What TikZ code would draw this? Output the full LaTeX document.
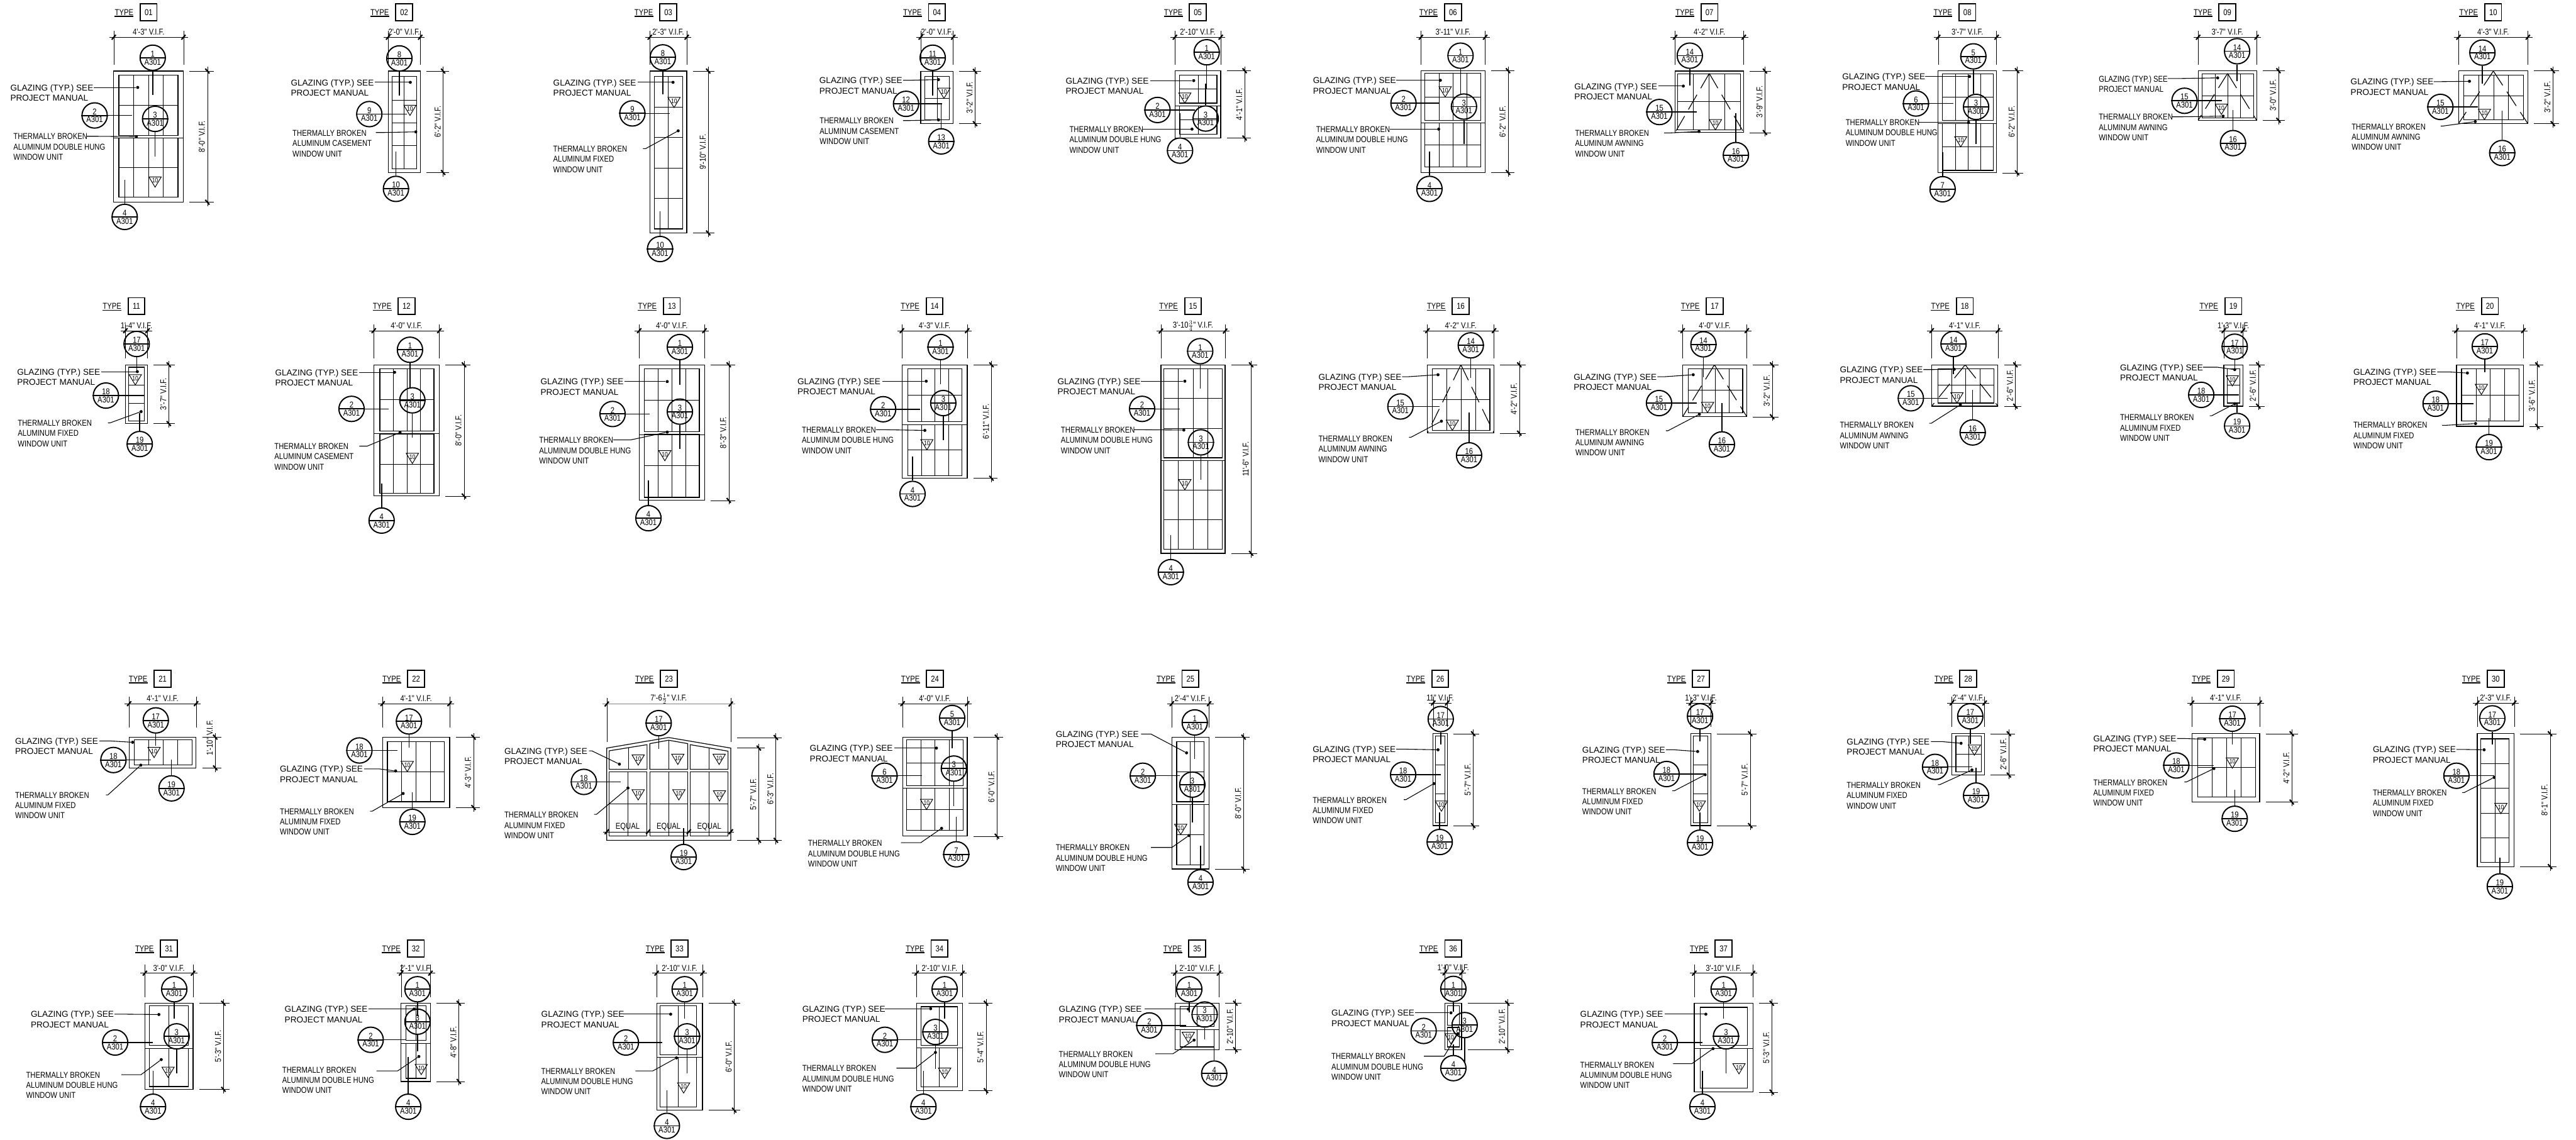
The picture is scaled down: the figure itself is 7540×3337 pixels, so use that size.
\documentclass[tikz,border=0pt]{standalone}
\usepackage{amsmath, amssymb}
\usepackage{fontspec}
\usepackage{xcolor}
\usetikzlibrary{positioning}
\newfontfamily\cadw{Liberation Sans}
\newfontfamily\cadn[FakeStretch=.83]{Liberation Sans}
\tikzset{
  frameln/.style={line width=1.1pt},
  gridln/.style={line width=.9pt},
  dimln/.style={line width=.4pt},
  tickln/.style={line width=2pt},
  leaderln/.style={line width=1.4pt},
  noteln/.style={line width=1pt},
  awnln/.style={line width=1.1pt,dash pattern=on 25pt off 11pt},
  bubblec/.style={circle,draw,line width=1.8pt,minimum size=37pt,inner sep=0pt},
  cadtxt/.style={inner sep=0pt,font={\cadn\fontsize{12.5}{15}\selectfont}},
  tagbox/.style={draw,line width=1.6pt,minimum size=24.5pt,inner sep=0pt,font={\cadn\fontsize{12.5}{15}\selectfont}},
  tagtxt/.style={inner xsep=0pt,inner ysep=1.5pt,font={\cadn\fontsize{12.5}{15}\selectfont}},
  notewide/.style={anchor=north west,align=left,inner sep=0pt,font={\cadw\fontsize{12.5}{15}\selectfont}},
  notenarrow/.style={anchor=north west,align=left,inner sep=0pt,font={\cadn\fontsize{12.5}{15}\selectfont}},
  dotmark/.style={circle,fill,inner sep=0pt,minimum size=4.5pt},
  tenmark/.style={inner sep=0pt,font={\cadn\fontsize{9.5}{10}\selectfont}}
}
% type tag above each window
\newcommand{\typetag}[3]{
  \node[tagbox] (t#1box) at (#2,#3) {#1};
  \node[tagtxt,left=9pt of t#1box] (t#1type) {TYPE};
  \draw[line width=1.4pt] (t#1type.south west) -- (t#1type.south east);
}
% outer frame and tag
\newcommand{\winbox}[6]{
  \draw[frameln] (#2,#3) rectangle (#4,#5);
  \typetag{#1}{{(#2+#4)/2}}{#6}
}
% glazed panel with nv evenly spaced bars
\newcommand{\sash}[5]{
  \draw[frameln] (#1,#2) rectangle (#3,#4);
  \ifnum#5>0
    \foreach \i in {1,...,#5}
      \draw[gridln] ({#1+(#3-#1)*\i/(#5+1)},#2) -- ({#1+(#3-#1)*\i/(#5+1)},#4);
  \fi
}
\newcommand{\hbars}[3]{
  \foreach \hy in {#3}
    \draw[gridln] (#1,\hy) -- (#2,\hy);
}
\newcommand{\awning}[5]{
  \draw[awnln] (#1,#2) -- (#3,#5);
  \draw[awnln] (#1,#2) -- (#4,#5);
}
\newcommand{\triten}[3]{
  \draw[gridln] (#2-18,#3) -- (#2+18,#3) -- (#2,#3+30) -- cycle;
  \node[tenmark] (#1) at (#2,#3+11) {10};
}
\newcommand{\dimw}[8][dimln]{
  \draw[dimln] (#3,#5) -- (#3,#7);
  \draw[dimln] (#4,#5) -- (#4,#7);
  \coordinate (#2a) at (#3,#6);
  \coordinate (#2b) at (#4,#6);
  \draw[#1,shorten <=-6.5pt,shorten >=-6.5pt] (#2a) -- (#2b);
  \draw[tickln] (#2a) ++(-6,7) -- ++(12,-14);
  \draw[tickln] (#2b) ++(-6,7) -- ++(12,-14);
  \node[cadtxt] (#2) at ({(#3+#4)/2},#6-15) {#8};
}
\newcommand{\dimhs}[7]{
  \draw[dimln] (#2+18,#4) -- (#3+18,#4);
  \draw[dimln] (#2+18,#5) -- (#3+18,#5);
  \coordinate (#1a) at (#3,#4);
  \coordinate (#1b) at (#3,#5);
  \draw[dimln,shorten <=-6pt,shorten >=-6pt] (#1a) -- (#1b);
  \draw[tickln] (#1a) ++(-6,-7) -- ++(12,14);
  \draw[tickln] (#1b) ++(-6,-7) -- ++(12,14);
  \node[cadtxt,rotate=90] (#1) at (#3-16,{(#4+#5)/2+#7}) {#6};
}
\newcommand{\dimh}[6]{\dimhs{#1}{#2}{#3}{#4}{#5}{#6}{0}}
\newcommand{\bubble}[6]{
  \node[bubblec] (#1) at (#2,#3) {};
  \draw[line width=1.7pt] (#1.west) -- (#1.east);
  \node[cadtxt,above=1pt of #1.center] (#1n) {#4};
  \node[cadtxt,below=1.5pt of #1.center] (#1s) {A301};
  \coordinate (#1t) at (#5,#6);
  \draw[leaderln] (#1) -- (#1t);
}
\newcommand{\glznote}[8][notewide]{
  \node[#1] (#2) at (#3,#4-10) {\rule{0pt}{9.5pt}GLAZING (TYP.) SEE\\PROJECT MANUAL};
  \coordinate (#2s) at (#5,#6);
  \node[dotmark] (#2d) at (#8) {};
  \draw[noteln] (#2s) -- (#7,#6) -- (#2d);
}
\newcommand{\thrnote}[9]{
  \node[notenarrow] (#1) at (#2,#3-10) {\rule{0pt}{9.5pt}THERMALLY BROKEN\\ALUMINUM #4\\WINDOW UNIT};
  \coordinate (#1s) at (#5,#6);
  \node[dotmark] (#1d) at (#8,#9) {};
  \draw[noteln] (#1s) -- (#7,#6) -- (#1d);
}
\begin{document}
\begin{tikzpicture}[x=.5pt,y=-.5pt]
  \useasboundingbox (0,0) rectangle (7540,3337);
  % type 01
  \winbox{01}{333}{208}{537}{592}{36}
  \sash{348}{220}{521}{396}{3} \sash{348}{404}{521}{577}{3}
  \hbars{348}{521}{309,491} \hbars{333}{537}{404}
  \triten{t01v}{454}{518}
  \dimw{t01w}{333}{537}{91}{109}{190}{4'-3" V.I.F.}
  \dimh{t01h}{537}{607}{208}{592}{8'-0" V.I.F.}
  \bubble{t01a}{447}{169}{1}{447}{278}
  \bubble{t01b}{277}{338}{2}{387}{338}
  \bubble{t01c}{454}{348}{3}{454}{458}
  \bubble{t01d}{365}{635}{4}{365}{527}
  \glznote{t01g}{30}{256}{275}{256}{300}{403,256}
  \thrnote{t01t}{39}{399}{DOUBLE HUNG}{254}{399}{280}{399}{400}
  % type 02
  \winbox{02}{1136}{208}{1230}{505}{36}
  \sash{1148}{224}{1219}{494}{1}
  \hbars{1148}{1219}{293,360,427}
  \triten{t02v}{1200}{308}
  \dimw{t02w}{1136}{1230}{91}{109}{190}{2'-0" V.I.F.}
  \dimh{t02h}{1230}{1297}{208}{505}{6'-2" V.I.F.}
  \bubble{t02a}{1169}{171}{8}{1169}{280}
  \bubble{t02b}{1081}{334}{9}{1191}{334}
  \bubble{t02c}{1159}{553}{10}{1159}{443}
  \glznote{t02g}{851}{242}{1098}{241}{1120}{1201,241}
  \thrnote{t02t}{856}{389}{CASEMENT}{1100}{388}{1120}{1217}{386}
  % type 03
  \winbox{03}{1902}{208}{2010}{682}{36}
  \sash{1915}{224}{1998}{670}{1}
  \hbars{1915}{1998}{314,403,492,581}
  \triten{t03v}{1973}{285}
  \dimw{t03w}{1902}{2010}{91}{109}{190}{2'-3" V.I.F.}
  \dimh{t03h}{2010}{2073}{208}{682}{9'-10" V.I.F.}
  \bubble{t03a}{1940}{168}{8}{1940}{277}
  \bubble{t03b}{1851}{332}{9}{1960}{332}
  \bubble{t03c}{1932}{729}{10}{1932}{619}
  \glznote{t03g}{1619}{241}{1866}{241}{1880}{1970,241}
  \thrnote{t03t}{1619}{435}{FIXED}{1882}{435}{1890}{1985}{383}
  % type 04
  \winbox{04}{2695}{209}{2790}{362}{36}
  \sash{2707}{224}{2779}{350}{1}
  \hbars{2707}{2779}{288}
  \triten{t04v}{2763}{258}
  \dimw{t04w}{2695}{2790}{91}{109}{190}{2'-0" V.I.F.}
  \dimh{t04h}{2790}{2854}{209}{362}{3'-2" V.I.F.}
  \bubble{t04a}{2730}{169}{11}{2730}{279}
  \bubble{t04b}{2652}{304}{12}{2758}{304}
  \bubble{t04c}{2755}{414}{13}{2755}{304}
  \glznote{t04g}{2398}{235}{2643}{235}{2660}{2747,233}
  \thrnote{t04t}{2399}{353}{CASEMENT}{2643}{353}{2660}{2747}{351}
  % type 05
  \winbox{05}{3439}{207}{3573}{404}{36}
  \sash{3452}{220}{3562}{302}{1} \sash{3452}{310}{3562}{393}{1}
  \hbars{3452}{3562}{261,350} \hbars{3439}{3573}{310}
  \triten{t05v}{3468}{272}
  \dimw{t05w}{3439}{3573}{91}{109}{190}{2'-10" V.I.F.}
  \dimh{t05h}{3573}{3643}{207}{404}{4'-1" V.I.F.}
  \bubble{t05a}{3532}{153}{1}{3532}{261}
  \bubble{t05b}{3388}{322}{2}{3497}{322}
  \bubble{t05c}{3529}{347}{3}{3529}{245}
  \bubble{t05d}{3454}{441}{4}{3454}{331}
  \glznote{t05g}{3119}{236}{3366}{236}{3390}{3494,236}
  \thrnote{t05t}{3130}{378}{DOUBLE HUNG}{3345}{378}{3370}{3489}{378}
  % type 06
  \winbox{06}{4159}{207}{4347}{505}{36}
  \sash{4171}{214}{4334}{352}{3} \sash{4171}{360}{4334}{488}{3}
  \hbars{4171}{4334}{284,424} \hbars{4159}{4347}{360}
  \triten{t06v}{4230}{254}
  \dimw{t06w}{4159}{4347}{91}{109}{190}{3'-11" V.I.F.}
  \dimh{t06h}{4347}{4414}{207}{505}{6'-2" V.I.F.}
  \bubble{t06a}{4275}{163}{1}{4275}{278}
  \bubble{t06b}{4108}{302}{2}{4214}{302}
  \bubble{t06c}{4285}{312}{3}{4285}{422}
  \bubble{t06d}{4184}{553}{4}{4184}{443}
  \glznote{t06g}{3843}{235}{4087}{235}{4110}{4216,235}
  \thrnote{t06t}{3852}{378}{DOUBLE HUNG}{4068}{378}{4090}{4211}{378}
  % type 07
  \winbox{07}{4903}{208}{5104}{388}{36}
  \sash{4911}{216}{5095}{380}{3}
  \hbars{4911}{5095}{298}
  \awning{5003}{215}{4903}{5104}{388}
  \triten{t07v}{5021}{350}
  \dimw{t07w}{4903}{5104}{91}{109}{190}{4'-2" V.I.F.}
  \dimh{t07h}{5104}{5166}{208}{388}{3'-9" V.I.F.}
  \bubble{t07a}{4946}{163}{14}{4946}{251}
  \bubble{t07b}{4857}{328}{15}{4967}{328}
  \bubble{t07c}{5081}{454}{16}{5081}{331}
  \glznote{t07g}{4608}{252}{4854}{252}{4870}{4927,252}
  \thrnote{t07t}{4610}{389}{AWNING}{4871}{389}{4890}{4973}{385}
  % type 08
  \winbox{08}{5673}{207}{5844}{506}{36}
  \sash{5686}{216}{5835}{353}{3} \sash{5686}{361}{5835}{499}{3}
  \hbars{5686}{5835}{284,430} \hbars{5673}{5844}{361}
  \triten{t08v}{5739}{400}
  \dimw{t08w}{5673}{5844}{91}{109}{190}{3'-7" V.I.F.}
  \dimh{t08h}{5844}{5904}{207}{506}{6'-2" V.I.F.}
  \bubble{t08a}{5776}{165}{5}{5776}{275}
  \bubble{t08b}{5608}{303}{6}{5718}{303}
  \bubble{t08c}{5784}{313}{3}{5784}{422}
  \bubble{t08d}{5686}{554}{7}{5686}{445}
  \glznote{t08g}{5392}{224}{5635}{224}{5660}{5765,224}
  \thrnote{t08t}{5402}{358}{DOUBLE HUNG}{5616}{358}{5640}{5762}{358}
  % type 09
  \winbox{09}{6434}{207}{6605}{352}{36}
  \sash{6446}{216}{6596}{345}{3}
  \hbars{6446}{6596}{280}
  \awning{6520}{215}{6434}{6605}{352}
  \triten{t09v}{6502}{305}
  \dimw{t09w}{6434}{6605}{91}{109}{190}{3'-7" V.I.F.}
  \dimh{t09h}{6605}{6669}{207}{352}{3'-0" V.I.F.}
  \bubble{t09a}{6548}{150}{14}{6548}{237}
  \bubble{t09b}{6394}{295}{15}{6504}{295}
  \bubble{t09c}{6536}{419}{16}{6536}{322}
  \glznote[notenarrow]{t09g}{6143}{230}{6345}{230}{6370}{6491,228}
  \thrnote{t09t}{6143}{342}{AWNING}{6358}{342}{6380}{6507}{340}
  % type 10
  \winbox{10}{7196}{207}{7399}{362}{36}
  \sash{7212}{220}{7386}{350}{3}
  \hbars{7212}{7386}{281}
  \awning{7298}{208}{7196}{7399}{362}
  \triten{t10v}{7272}{320}
  \dimw{t10w}{7196}{7399}{91}{109}{190}{4'-3" V.I.F.}
  \dimh{t10h}{7399}{7472}{207}{362}{3'-2" V.I.F.}
  \bubble{t10a}{7266}{154}{14}{7266}{245}
  \bubble{t10b}{7143}{313}{15}{7253}{313}
  \bubble{t10c}{7324}{448}{16}{7324}{324}
  \glznote{t10g}{6880}{239}{7123}{239}{7140}{7228,238}
  \thrnote{t10t}{6883}{370}{AWNING}{7144}{369}{7150}{7245}{356}
  % type 11
  \winbox{11}{367}{1068}{432}{1240}{896}
  \sash{377}{1075}{423}{1232}{0}
  \hbars{377}{423}{1127,1180}
  \triten{t11v}{396}{1097}
  \dimw{t11w}{367}{432}{950}{968}{1050}{1'-4" V.I.F.}
  \dimh{t11h}{432}{494}{1068}{1240}{3'-7" V.I.F.}
  \bubble{t11a}{400}{1007}{17}{400}{1088}
  \bubble{t11b}{310}{1158}{18}{421}{1158}
  \bubble{t11c}{409}{1300}{19}{409}{1209}
  \glznote{t11g}{50}{1088}{297}{1088}{320}{402,1088}
  \thrnote{t11t}{52}{1238}{FIXED}{316}{1238}{322}{413}{1205}
  % type 12
  \winbox{12}{1094}{1068}{1286}{1452}{896}
  \sash{1112}{1079}{1270}{1262}{3} \sash{1112}{1270}{1270}{1444}{3}
  \hbars{1112}{1270}{1170,1359} \hbars{1094}{1286}{1270}
  \triten{t12v}{1207}{1327}
  \dimw{t12w}{1094}{1286}{950}{968}{1050}{4'-0" V.I.F.}
  \dimh{t12h}{1286}{1358}{1068}{1452}{8'-0" V.I.F.}
  \bubble{t12a}{1200}{1024}{1}{1200}{1136}
  \bubble{t12b}{1029}{1197}{2}{1138}{1197}
  \bubble{t12c}{1207}{1172}{3}{1207}{1282}
  \bubble{t12d}{1117}{1524}{4}{1117}{1415}
  \glznote{t12g}{805}{1090}{1052}{1090}{1075}{1155,1090}
  \thrnote{t12t}{803}{1306}{CASEMENT}{1052}{1306}{1075}{1171}{1266}
  % type 13
  \winbox{13}{1871}{1068}{2062}{1465}{896}
  \sash{1886}{1080}{2047}{1264}{3} \sash{1886}{1272}{2047}{1456}{3}
  \hbars{1886}{2047}{1171,1364} \hbars{1871}{2062}{1272}
  \triten{t13v}{1946}{1319}
  \dimw{t13w}{1871}{2062}{950}{968}{1050}{4'-0" V.I.F.}
  \dimh{t13h}{2062}{2133}{1068}{1465}{8'-3" V.I.F.}
  \bubble{t13a}{1990}{1016}{1}{1990}{1126}
  \bubble{t13b}{1793}{1212}{2}{1902}{1212}
  \bubble{t13c}{1990}{1205}{3}{1990}{1314}
  \bubble{t13d}{1898}{1517}{4}{1898}{1407}
  \glznote{t13g}{1582}{1117}{1827}{1117}{1850}{1953,1117}
  \thrnote{t13t}{1578}{1288}{DOUBLE HUNG}{1795}{1288}{1845}{1953}{1265}
  % type 14
  \winbox{14}{2640}{1068}{2831}{1400}{896}
  \sash{2657}{1079}{2816}{1234}{3} \sash{2657}{1243}{2816}{1392}{3}
  \hbars{2657}{2816}{1157,1317} \hbars{2640}{2831}{1243}
  \triten{t14v}{2713}{1287}
  \dimw{t14w}{2640}{2831}{950}{968}{1050}{4'-3" V.I.F.}
  \dimh{t14h}{2831}{2902}{1068}{1400}{6'-11" V.I.F.}
  \bubble{t14a}{2753}{1016}{1}{2753}{1125}
  \bubble{t14b}{2585}{1198}{2}{2694}{1198}
  \bubble{t14c}{2761}{1180}{3}{2761}{1289}
  \bubble{t14d}{2671}{1446}{4}{2671}{1337}
  \glznote{t14g}{2334}{1116}{2583}{1116}{2600}{2711,1116}
  \thrnote{t14t}{2347}{1258}{DOUBLE HUNG}{2564}{1258}{2590}{2707}{1260}
  % type 15
  \winbox{15}{3398}{1068}{3586}{1620}{896}
  \sash{3406}{1080}{3578}{1340}{3} \sash{3406}{1348}{3578}{1608}{3}
  \hbars{3406}{3578}{1166,1254,1434,1521} \hbars{3398}{3586}{1348}
  \triten{t15v}{3468}{1404}
  \dimw{t15w}{3398}{3586}{950}{969}{1050}{3'-10$\frac{3}{4}$" V.I.F.}
  \dimh{t15h}{3586}{3662}{1068}{1620}{11'-6" V.I.F.}
  \bubble{t15a}{3513}{1028}{1}{3513}{1137}
  \bubble{t15b}{3343}{1197}{2}{3453}{1197}
  \bubble{t15c}{3515}{1295}{3}{3515}{1404}
  \bubble{t15d}{3427}{1675}{4}{3427}{1566}
  \glznote{t15g}{3095}{1116}{3339}{1116}{3360}{3468,1116}
  \thrnote{t15t}{3105}{1258}{DOUBLE HUNG}{3319}{1258}{3340}{3465}{1259}
  % type 16
  \winbox{16}{4178}{1068}{4373}{1268}{896}
  \sash{4192}{1080}{4361}{1260}{3}
  \hbars{4192}{4361}{1170}
  \awning{4276}{1068}{4178}{4373}{1268}
  \triten{t16v}{4251}{1230}
  \dimw{t16w}{4178}{4373}{950}{968}{1050}{4'-2" V.I.F.}
  \dimh{t16h}{4373}{4447}{1068}{1268}{4'-2" V.I.F.}
  \bubble{t16a}{4305}{1011}{14}{4305}{1106}
  \bubble{t16b}{4099}{1190}{15}{4214}{1190}
  \bubble{t16c}{4300}{1333}{16}{4300}{1208}
  \glznote{t16g}{3859}{1103}{4104}{1103}{4120}{4209,1097}
  \thrnote{t16t}{3859}{1284}{AWNING}{4124}{1280}{4130}{4219}{1233}
  % type 17
  \winbox{17}{4925}{1068}{5113}{1220}{896}
  \sash{4942}{1080}{5101}{1208}{3}
  \hbars{4942}{5101}{1143}
  \awning{5018}{1068}{4925}{5113}{1220}
  \triten{t17v}{4998}{1178}
  \dimw{t17w}{4925}{5113}{950}{968}{1050}{4'-0" V.I.F.}
  \dimh{t17h}{5113}{5187}{1068}{1220}{3'-2" V.I.F.}
  \bubble{t17a}{4986}{1008}{14}{4986}{1104}
  \bubble{t17b}{4856}{1180}{15}{4966}{1180}
  \bubble{t17c}{5040}{1301}{16}{5040}{1180}
  \glznote{t17g}{4606}{1103}{4851}{1103}{4870}{4956,1097}
  \thrnote{t17t}{4611}{1265}{AWNING}{4876}{1261}{4882}{4974}{1213}
  % type 18
  \winbox{18}{5654}{1068}{5848}{1189}{896}
  \sash{5672}{1080}{5836}{1180}{3}
  \hbars{5672}{5836}{1128}
  \awning{5752}{1068}{5654}{5848}{1189}
  \triten{t18v}{5728}{1150}
  \dimw{t18w}{5654}{5848}{950}{968}{1050}{4'-1" V.I.F.}
  \dimh{t18h}{5848}{5899}{1068}{1189}{2'-6" V.I.F.}
  \bubble{t18a}{5718}{1007}{14}{5718}{1096}
  \bubble{t18b}{5593}{1166}{15}{5701}{1166}
  \bubble{t18c}{5774}{1266}{16}{5774}{1141}
  \glznote{t18g}{5385}{1082}{5630}{1082}{5650}{5720,1081}
  \thrnote{t18t}{5385}{1244}{AWNING}{5647}{1239}{5653}{5738}{1185}
  % type 19
  \winbox{19}{6509}{1068}{6565}{1189}{896}
  \sash{6519}{1080}{6556}{1180}{0}
  \hbars{6519}{6556}{1127}
  \triten{t19v}{6534}{1100}
  \dimw{t19w}{6509}{6565}{950}{968}{1050}{1'-3" V.I.F.}
  \dimh{t19h}{6565}{6610}{1068}{1189}{2'-6" V.I.F.}
  \bubble{t19a}{6541}{1015}{17}{6541}{1082}
  \bubble{t19b}{6443}{1156}{18}{6553}{1156}
  \bubble{t19c}{6548}{1247}{19}{6548}{1182}
  \glznote{t19g}{6205}{1075}{6448}{1075}{6490}{6541,1082}
  \thrnote{t19t}{6205}{1222}{FIXED}{6468}{1217}{6474}{6541}{1182}
  % type 20
  \winbox{20}{7190}{1068}{7386}{1248}{896}
  \sash{7205}{1080}{7374}{1232}{3}
  \hbars{7205}{7374}{1156}
  \triten{t20v}{7263}{1125}
  \dimw{t20w}{7190}{7386}{950}{968}{1050}{4'-1" V.I.F.}
  \dimh{t20h}{7386}{7427}{1068}{1248}{3'-6" V.I.F.}
  \bubble{t20a}{7273}{1014}{17}{7273}{1089}
  \bubble{t20b}{7129}{1182}{18}{7239}{1182}
  \bubble{t20c}{7285}{1309}{19}{7285}{1224}
  \glznote{t20g}{6888}{1089}{7134}{1089}{7170}{7222,1092}
  \thrnote{t20t}{6888}{1244}{FIXED}{7148}{1245}{7160}{7246}{1240}
  % type 21
  \winbox{21}{378}{2158}{574}{2248}{1987}
  \sash{393}{2166}{562}{2239}{3}
  \triten{t21v}{451}{2188}
  \dimw{t21w}{378}{574}{2039}{2060}{2130}{4'-1" V.I.F.}
  \dimhs{t21h}{574}{630}{2158}{2248}{1'-10" V.I.F.}{-43}
  \bubble{t21a}{456}{2109}{17}{456}{2184}
  \bubble{t21b}{332}{2225}{18}{441}{2225}
  \bubble{t21c}{502}{2308}{19}{502}{2223}
  \glznote{t21g}{44}{2169}{291}{2169}{320}{388,2173}
  \thrnote{t21t}{44}{2327}{FIXED}{310}{2327}{316}{412}{2240}
  % type 22
  \winbox{22}{1120}{2158}{1316}{2364}{1987}
  \sash{1134}{2171}{1301}{2347}{3}
  \hbars{1134}{1301}{2259}
  \triten{t22v}{1192}{2229}
  \dimw{t22w}{1120}{1316}{2039}{2060}{2130}{4'-1" V.I.F.}
  \dimh{t22h}{1316}{1386}{2158}{2364}{4'-3" V.I.F.}
  \bubble{t22a}{1197}{2112}{17}{1197}{2189}
  \bubble{t22b}{1052}{2197}{18}{1163}{2197}
  \bubble{t22c}{1207}{2406}{19}{1207}{2320}
  \glznote{t22g}{819}{2251}{1066}{2251}{1110}{1158,2257}
  \thrnote{t22t}{819}{2375}{FIXED}{1083}{2375}{1089}{1180}{2323}
  % type 23
  \typetag{23}{1958}{1987}
  \draw[frameln] (1776,2190) -- (1957,2159) -- (2139,2190) -- (2139,2460) -- (1776,2460) -- cycle;
  \draw[frameln] (1783,2198) -- (1894,2180) -- (1894,2252) -- (1783,2252) -- cycle;
  \draw[frameln] (1902,2177) -- (1957,2167) -- (2013,2177) -- (2013,2252) -- (1902,2252) -- cycle;
  \draw[frameln] (2020,2180) -- (2131,2199) -- (2131,2252) -- (2020,2252) -- cycle;
  \sash{1783}{2259}{1894}{2448}{1} \sash{1902}{2259}{2013}{2448}{1} \sash{2020}{2259}{2131}{2448}{1}
  \draw[gridln] (1840,2189) -- (1840,2252);
  \draw[gridln] (1957,2167) -- (1957,2252);
  \draw[gridln] (2076,2189) -- (2076,2252);
  \hbars{1783}{1894}{2353} \hbars{1902}{2013}{2353} \hbars{2020}{2131}{2353}
  \triten{t23v}{1868}{2210} \triten{t23w}{1984}{2208} \triten{t23x}{2105}{2208}
  \triten{t23y}{1868}{2312} \triten{t23z}{1987}{2312} \triten{t23u}{2106}{2315}
  \dimw[dimln,line width=1.2pt,gray]{t23k}{1776}{2139}{2044}{2061}{2173}{7'-6$\frac{1}{2}$" V.I.F.}
  \dimh{t23h}{2139}{2221}{2190}{2460}{5'-7" V.I.F.}
  \dimh{t23j}{2139}{2271}{2159}{2460}{6'-3" V.I.F.}
  \coordinate (t23e0) at (1776,2435);
  \coordinate (t23e1) at (1897,2435);
  \coordinate (t23e2) at (2016,2435);
  \coordinate (t23e3) at (2139,2435);
  \draw[dimln,shorten <=-5pt,shorten >=-5pt] (t23e0) -- (t23e3);
  \foreach \e in {0,1,2,3}
    \draw[tickln] (t23e\e) ++(-6,7) -- ++(12,-14);
  \node[cadtxt] (t23q1) at (1837,2420) {EQUAL};
  \node[cadtxt] (t23q2) at (1957,2420) {EQUAL};
  \node[cadtxt] (t23q3) at (2076,2420) {EQUAL};
  \bubble{t23a}{1928}{2117}{17}{1928}{2192}
  \bubble{t23b}{1709}{2289}{18}{1817}{2289}
  \bubble{t23c}{2001}{2509}{19}{2001}{2424}
  \glznote{t23g}{1476}{2198}{1724}{2198}{1732}{1813,2237}
  \thrnote{t23t}{1476}{2385}{FIXED}{1739}{2384}{1746}{1838}{2307}
  % type 24
  \winbox{24}{2642}{2158}{2831}{2448}{1987}
  \sash{2654}{2166}{2819}{2300}{3} \sash{2654}{2307}{2819}{2431}{3}
  \hbars{2654}{2819}{2233,2370} \hbars{2642}{2831}{2307}
  \triten{t24v}{2712}{2340}
  \dimw{t24w}{2642}{2831}{2039}{2060}{2130}{4'-0" V.I.F.}
  \dimh{t24h}{2831}{2918}{2158}{2448}{6'-0" V.I.F.}
  \bubble{t24a}{2787}{2102}{5}{2787}{2191}
  \bubble{t24b}{2589}{2271}{6}{2698}{2271}
  \bubble{t24c}{2792}{2250}{3}{2792}{2360}
  \bubble{t24d}{2799}{2501}{7}{2799}{2392}
  \glznote{t24g}{2370}{2190}{2618}{2190}{2640}{2741,2190}
  \thrnote{t24t}{2365}{2468}{DOUBLE HUNG}{2637}{2467}{2695}{2756}{2425}
  % type 25
  \winbox{25}{3430}{2158}{3539}{2544}{1987}
  \sash{3444}{2171}{3524}{2347}{1} \sash{3444}{2355}{3524}{2532}{1}
  \hbars{3444}{3524}{2259,2443} \hbars{3430}{3539}{2355}
  \triten{t25v}{3456}{2413}
  \dimw{t25w}{3430}{3539}{2039}{2060}{2130}{2'-4" V.I.F.}
  \dimh{t25h}{3539}{3640}{2158}{2544}{8'-0" V.I.F.}
  \bubble{t25a}{3497}{2115}{1}{3497}{2222}
  \bubble{t25b}{3345}{2271}{2}{3454}{2271}
  \bubble{t25c}{3490}{2297}{3}{3490}{2408}
  \bubble{t25d}{3514}{2583}{4}{3514}{2475}
  \glznote{t25g}{3090}{2149}{3340}{2149}{3369}{3473,2204}
  \thrnote{t25t}{3090}{2481}{DOUBLE HUNG}{3369}{2481}{3430}{3480}{2446}
  % type 26
  \winbox{26}{4195}{2148}{4236}{2417}{1987}
  \sash{4202}{2155}{4229}{2409}{0}
  \hbars{4202}{4229}{2240,2324}
  \triten{t26v}{4219}{2345}
  \dimw{t26w}{4195}{4236}{2039}{2058}{2128}{11" V.I.F.}
  \dimh{t26h}{4236}{4312}{2148}{2417}{5'-7" V.I.F.}
  \bubble{t26a}{4217}{2105}{17}{4217}{2180}
  \bubble{t26b}{4107}{2268}{18}{4217}{2268}
  \bubble{t26c}{4214}{2465}{19}{4214}{2379}
  \glznote{t26g}{3842}{2193}{4087}{2193}{4104}{4209,2195}
  \thrnote{t26t}{3842}{2342}{FIXED}{4109}{2341}{4115}{4197}{2294}
  % type 27
  \winbox{27}{4949}{2148}{5008}{2417}{1987}
  \sash{4956}{2155}{4998}{2409}{0}
  \hbars{4956}{4998}{2240,2324}
  \triten{t27v}{4974}{2345}
  \dimw{t27w}{4949}{5008}{2039}{2058}{2128}{1'-3" V.I.F.}
  \dimh{t27h}{5008}{5123}{2148}{2417}{5'-7" V.I.F.}
  \bubble{t27a}{4976}{2097}{17}{4976}{2170}
  \bubble{t27b}{4878}{2266}{18}{4988}{2266}
  \bubble{t27c}{4976}{2467}{19}{4976}{2379}
  \glznote{t27g}{4631}{2195}{4876}{2195}{4900}{4969,2200}
  \thrnote{t27t}{4631}{2316}{FIXED}{4895}{2315}{4901}{4991}{2268}
  % type 28
  \winbox{28}{5713}{2148}{5809}{2269}{1987}
  \sash{5725}{2155}{5799}{2260}{1}
  \hbars{5725}{5799}{2208}
  \triten{t28v}{5779}{2181}
  \dimw{t28w}{5713}{5809}{2039}{2058}{2128}{2'-4" V.I.F.}
  \dimh{t28h}{5809}{5880}{2148}{2269}{2'-6" V.I.F.}
  \bubble{t28a}{5767}{2097}{17}{5767}{2178}
  \bubble{t28b}{5664}{2245}{18}{5772}{2245}
  \bubble{t28c}{5784}{2329}{19}{5784}{2247}
  \glznote{t28g}{5405}{2171}{5652}{2171}{5684}{5740,2176}
  \thrnote{t28t}{5405}{2298}{FIXED}{5672}{2297}{5678}{5772}{2254}
  % type 29
  \winbox{29}{6416}{2148}{6614}{2348}{1987}
  \sash{6433}{2160}{6602}{2333}{3}
  \hbars{6433}{6602}{2247}
  \triten{t29v}{6534}{2219}
  \dimw{t29w}{6416}{6614}{2039}{2058}{2128}{4'-1" V.I.F.}
  \dimh{t29h}{6614}{6708}{2148}{2348}{4'-2" V.I.F.}
  \bubble{t29a}{6534}{2104}{17}{6534}{2180}
  \bubble{t29b}{6370}{2241}{18}{6480}{2241}
  \bubble{t29c}{6541}{2397}{19}{6541}{2312}
  \glznote{t29g}{6127}{2162}{6372}{2162}{6395}{6453,2164}
  \thrnote{t29t}{6127}{2290}{FIXED}{6394}{2289}{6400}{6480}{2250}
  % type 30
  \winbox{30}{7251}{2148}{7359}{2537}{1987}
  \sash{7261}{2163}{7344}{2525}{1}
  \hbars{7261}{7344}{2236,2308,2381,2453}
  \triten{t30v}{7320}{2352}
  \dimw{t30w}{7251}{7359}{2039}{2058}{2128}{2'-3" V.I.F.}
  \dimh{t30h}{7359}{7464}{2148}{2537}{8'-1" V.I.F.}
  \bubble{t30a}{7295}{2103}{17}{7295}{2179}
  \bubble{t30b}{7190}{2271}{18}{7300}{2271}
  \bubble{t30c}{7317}{2595}{19}{7317}{2510}
  \glznote{t30g}{6945}{2194}{7190}{2194}{7210}{7271,2195}
  \thrnote{t30t}{6945}{2320}{FIXED}{7207}{2320}{7213}{7300}{2276}
  % type 31
  \winbox{31}{424}{2937}{565}{3189}{2777}
  \sash{437}{2945}{551}{3061}{1} \sash{437}{3069}{551}{3181}{1}
  \hbars{424}{565}{3069}
  \triten{t31v}{492}{3124}
  \dimw{t31w}{424}{565}{2823}{2849}{2919}{3'-0" V.I.F.}
  \dimh{t31h}{565}{654}{2937}{3189}{5'-3" V.I.F.}
  \bubble{t31a}{510}{2896}{1}{510}{2982}
  \bubble{t31b}{337}{3052}{2}{448}{3052}
  \bubble{t31c}{517}{3034}{3}{517}{3143}
  \bubble{t31d}{448}{3240}{4}{448}{3135}
  \glznote{t31g}{90}{2969}{335}{2969}{360}{465,2970}
  \thrnote{t31t}{76}{3146}{DOUBLE HUNG}{355}{3146}{413}{472}{3102}
  % type 32
  \winbox{32}{1174}{2937}{1260}{3166}{2777}
  \sash{1188}{2945}{1247}{3046}{1} \sash{1188}{3055}{1247}{3157}{1}
  \hbars{1174}{1260}{3055}
  \triten{t32v}{1233}{3116}
  \dimw{t32w}{1174}{1260}{2823}{2849}{2919}{2'-1" V.I.F.}
  \dimh{t32h}{1260}{1343}{2937}{3166}{4'-8" V.I.F.}
  \bubble{t32a}{1222}{2896}{1}{1222}{2975}
  \bubble{t32b}{1085}{3044}{2}{1188}{3044}
  \bubble{t32c}{1222}{2991}{3}{1222}{3078}
  \bubble{t32d}{1195}{3240}{4}{1195}{3095}
  \glznote{t32g}{833}{2954}{1078}{2954}{1100}{1212,2954}
  \thrnote{t32t}{826}{3131}{DOUBLE HUNG}{1102}{3135}{1164}{1226}{3093}
  % type 33
  \winbox{33}{1922}{2937}{2056}{3250}{2777}
  \sash{1932}{2945}{2039}{3088}{1} \sash{1932}{3096}{2039}{3241}{1}
  \hbars{1922}{2056}{3096}
  \triten{t33v}{2001}{3170}
  \dimw{t33w}{1922}{2056}{2823}{2849}{2919}{2'-10" V.I.F.}
  \dimh{t33h}{2056}{2149}{2937}{3250}{6'-0" V.I.F.}
  \bubble{t33a}{2004}{2896}{1}{2004}{2982}
  \bubble{t33b}{1832}{3052}{2}{1939}{3052}
  \bubble{t33c}{2011}{3034}{3}{2011}{3143}
  \bubble{t33d}{1952}{3296}{4}{1952}{3192}
  \glznote{t33g}{1584}{2969}{1825}{2969}{1850}{1963,2969}
  \thrnote{t33t}{1584}{3135}{DOUBLE HUNG}{1860}{3135}{1911}{1980}{3097}
  % type 34
  \winbox{34}{2683}{2937}{2817}{3193}{2777}
  \sash{2696}{2947}{2803}{3060}{1} \sash{2696}{3068}{2803}{3182}{1}
  \hbars{2683}{2817}{3068}
  \triten{t34v}{2765}{3127}
  \dimw{t34w}{2683}{2817}{2823}{2849}{2919}{2'-10" V.I.F.}
  \dimh{t34h}{2817}{2886}{2937}{3193}{5'-4" V.I.F.}
  \bubble{t34a}{2765}{2896}{1}{2765}{2982}
  \bubble{t34b}{2590}{3044}{2}{2696}{3044}
  \bubble{t34c}{2738}{3021}{3}{2738}{3130}
  \bubble{t34d}{2703}{3240}{4}{2703}{3135}
  \glznote{t34g}{2348}{2953}{2590}{2953}{2610}{2724,2953}
  \thrnote{t34t}{2348}{3127}{DOUBLE HUNG}{2624}{3127}{2679}{2738}{3081}
  % type 35
  \winbox{35}{3440}{2937}{3568}{3073}{2777}
  \sash{3454}{2946}{3554}{3005}{1} \sash{3454}{3014}{3554}{3065}{1}
  \hbars{3440}{3568}{3014}
  \triten{t35v}{3478}{3022}
  \dimw{t35w}{3440}{3568}{2823}{2849}{2919}{2'-10" V.I.F.}
  \dimh{t35h}{3568}{3616}{2937}{3073}{2'-10" V.I.F.}
  \bubble{t35a}{3481}{2896}{1}{3481}{2963}
  \bubble{t35b}{3364}{3002}{2}{3471}{3002}
  \bubble{t35c}{3526}{2970}{3}{3526}{3043}
  \bubble{t35d}{3554}{3143}{4}{3554}{3040}
  \glznote{t35g}{3099}{2954}{3351}{2954}{3370}{3478,2954}
  \thrnote{t35t}{3099}{3085}{DOUBLE HUNG}{3382}{3085}{3433}{3495}{3045}
  % type 36
  \winbox{36}{4229}{2937}{4278}{3073}{2777}
  \sash{4237}{2944}{4271}{3001}{0} \sash{4237}{3008}{4271}{3065}{0}
  \triten{t36v}{4247}{3026}
  \dimw{t36w}{4229}{4278}{2823}{2848}{2919}{1'-0" V.I.F.}
  \dimh{t36h}{4278}{4412}{2937}{3073}{2'-10" V.I.F.}
  \bubble{t36a}{4254}{2895}{1}{4254}{2962}
  \bubble{t36b}{4167}{3018}{2}{4248}{3018}
  \bubble{t36c}{4287}{3001}{3}{4287}{3110}
  \bubble{t36d}{4254}{3127}{4}{4254}{3058}
  \glznote{t36g}{3897}{2965}{4142}{2965}{4170}{4247,2965}
  \thrnote{t36t}{3897}{3092}{DOUBLE HUNG}{4168}{3092}{4227}{4267}{3026}
  % type 37
  \winbox{37}{4959}{2937}{5131}{3197}{2777}
  \sash{4976}{2949}{5114}{3061}{0} \sash{4976}{3069}{5114}{3185}{0}
  \hbars{4959}{5131}{3069}
  \triten{t37v}{5090}{3114}
  \dimw{t37w}{4959}{5131}{2823}{2849}{2919}{3'-10" V.I.F.}
  \dimh{t37h}{5131}{5186}{2937}{3197}{5'-3" V.I.F.}
  \bubble{t37a}{5045}{2896}{1}{5045}{2982}
  \bubble{t37b}{4873}{3052}{2}{4983}{3052}
  \bubble{t37c}{5052}{3034}{3}{5052}{3143}
  \bubble{t37d}{4983}{3240}{4}{4983}{3135}
  \glznote{t37g}{4625}{2969}{4873}{2969}{4890}{4993,2969}
  \thrnote{t37t}{4625}{3117}{DOUBLE HUNG}{4897}{3114}{4952}{5014}{3070}
\end{tikzpicture}
\end{document}
